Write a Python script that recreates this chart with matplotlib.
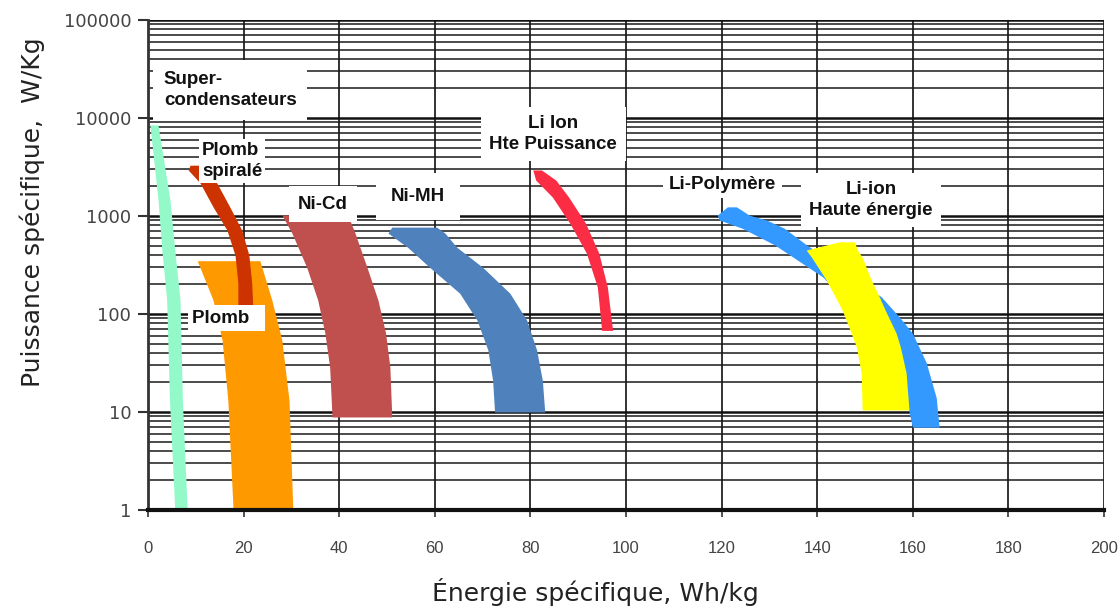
import matplotlib
matplotlib.use("Agg")
import matplotlib.pyplot as plt
from matplotlib.ticker import LogLocator, NullFormatter

# Diagramme de Ragone : chaque technologie est une bande (energie min/max
# pour chaque niveau de puissance specifique)

# Super-condensateurs
sc_p = [8500, 1450, 450, 140, 13, 1]
sc_left = [0.4, 2.1, 2.9, 3.9, 4.5, 5.6]
sc_right = [2.1, 4.6, 5.6, 6.7, 7.2, 8.2]

# Plomb spirale
ps_p = [3300, 2950, 2170, 1240, 720, 400, 207, 123, 110]
ps_left = [8.8, 8.4, 10.9, 13.6, 16.5, 18.2, 18.8, 18.8, 18.8]
ps_right = [11.3, 11.9, 14.4, 17.1, 19.6, 21.1, 21.7, 21.9, 21.9]

# Plomb
pb_p = [350, 139, 54, 13.2, 1]
pb_left = [10.3, 13.6, 15.5, 16.7, 17.8]
pb_right = [23.4, 25.9, 28.0, 29.5, 30.3]

# Ni-Cd
nicd_p = [1024, 670, 300, 139, 64, 28.8, 8.9]
nicd_left = [28.0, 30.1, 33.2, 35.5, 37.0, 38.0, 38.5]
nicd_right = [41.8, 43.3, 45.8, 48.1, 49.7, 50.6, 51.0]

# Ni-MH
nimh_p = [770, 670, 480, 300, 163, 87, 43, 21, 10]
nimh_left = [51.0, 50.2, 54.3, 58.9, 65.2, 68.8, 71.1, 72.1, 72.5]
nimh_right = [60.4, 62.1, 64.6, 70.0, 75.7, 79.2, 81.3, 82.5, 83.0]

# Li Ion haute puissance
lihp_p = [2950, 2330, 1560, 850, 420, 189, 68]
lihp_left = [80.5, 81.1, 84.6, 88.2, 91.7, 94.0, 94.9]
lihp_right = [82.3, 85.3, 88.0, 91.5, 94.3, 96.1, 97.2]

# Li-Polymere
lipo_p = [1240, 1020, 910, 750, 510, 450, 240, 150, 93, 64, 32, 14, 7]
lipo_left = [121.2, 119.1, 119.5, 124.3, 131.0, 132.7, 141.1, 145.2, 148.8,
             151.9, 156.1, 158.6, 159.9]
lipo_right = [123.1, 125.8, 129.4, 133.1, 137.7, 139.4, 147.3, 153.4, 157.2,
              159.9, 162.8, 164.9, 165.5]

# Li-ion haute energie
lihe_p = [545, 450, 380, 222, 149, 110, 64, 46, 25, 10.5]
lihe_left = [144.6, 137.7, 138.8, 141.9, 143.8, 145.2, 147.1, 148.2, 149.2, 149.4]
lihe_right = [147.8, 148.4, 149.4, 151.3, 153.0, 154.2, 156.5, 157.4, 158.6, 159.2]

xticks = list(range(0, 201, 20))
yticks = [1, 10, 100, 1000, 10000, 100000]
ytick_labels = ["1", "10", "100", "1000", "10000", "100000"]

fig = plt.figure(figsize=(11.2, 6.11), dpi=100)
ax = fig.add_axes([148 / 1120, 1 - 510 / 611, 956 / 1120, 490 / 611])
ax.set_yscale("log")
ax.set_xlim(0, 200)
ax.set_ylim(1, 100000)

bands = [
    (sc_p, sc_left, sc_right, "#94F9C9"),
    (pb_p, pb_left, pb_right, "#FF9900"),
    (ps_p, ps_left, ps_right, "#CC3300"),
    (nicd_p, nicd_left, nicd_right, "#C0504D"),
    (nimh_p, nimh_left, nimh_right, "#4F81BD"),
    (lihp_p, lihp_left, lihp_right, "#FA2D45"),
    (lipo_p, lipo_left, lipo_right, "#3399FF"),
    (lihe_p, lihe_left, lihe_right, "#FFFF00"),
]
for i, (p, left, right, col) in enumerate(bands):
    ax.fill_betweenx(p, left, right, color=col, lw=0, zorder=3 + i * 0.01)

# grille
ax.set_xticks(xticks)
ax.set_yticks(yticks, labels=ytick_labels)
ax.yaxis.set_minor_locator(LogLocator(base=10, subs=range(2, 10)))
ax.yaxis.set_minor_formatter(NullFormatter())
ax.grid(True, which="major", axis="x", color="#222222", lw=1.3, zorder=1)
ax.grid(True, which="major", axis="y", color="#111111", lw=1.8, zorder=1)
ax.grid(True, which="minor", axis="y", color="#1a1a1a", lw=1.1, zorder=1)
ax.set_axisbelow(True)

ax.tick_params(axis="y", which="major", length=7, width=1.5, pad=5,
               labelsize=13, labelcolor="#444444", color="#333333")
ax.tick_params(axis="y", which="minor", length=0)
ax.tick_params(axis="x", which="major", length=5, width=1.2, pad=17,
               labelsize=12, labelcolor="#444444", color="#333333")
for lab in ax.get_xticklabels():
    lab.set_fontfamily("Liberation Sans")

for s in ["top", "right"]:
    ax.spines[s].set_visible(False)
ax.spines["left"].set_linewidth(2)
ax.spines["left"].set_color("#333333")
ax.spines["bottom"].set_linewidth(3)
ax.spines["bottom"].set_color("#111111")
ax.spines["left"].set_zorder(6)
ax.spines["bottom"].set_zorder(6)

# etiquettes des technologies
lab_kw = dict(fontsize=13.5, fontfamily="Liberation Sans", fontweight="bold",
              color="#111111", zorder=5)
box = dict(boxstyle="square,pad=0.45", fc="white", ec="none")
ax.text(3.3, 19300, "Super-\ncondensateurs", ha="left", va="center",
        linespacing=1.35, bbox=dict(boxstyle="square,pad=0.55", fc="white", ec="none"),
        **lab_kw)
ax.text(11.3, 3640, "Plomb\nspiralé", ha="left", va="center", linespacing=1.3,
        bbox=dict(boxstyle="square,pad=0.15", fc="white", ec="none"), **lab_kw)
ax.text(36.6, 1325, "Ni-Cd", ha="center", va="center",
        bbox=dict(boxstyle="square,pad=0.5", fc="white", ec="none"), **lab_kw)
ax.text(56.4, 1563, "Ni-MH", ha="center", va="center",
        bbox=dict(boxstyle="square,pad=0.8", fc="white", ec="none"), **lab_kw)
ax.text(9.3, 91, "Plomb  ", ha="left", va="center",
        bbox=dict(boxstyle="square,pad=0.25", fc="white", ec="none"), **lab_kw)
ax.text(84.8, 6870, "Li Ion\nHte Puissance", ha="center", va="center",
        multialignment="center", linespacing=1.25, bbox=box, **lab_kw)
ax.text(120.2, 2120, "Li-Polymère", ha="center", va="center",
        bbox=dict(boxstyle="square,pad=0.3", fc="white", ec="none"), **lab_kw)
ax.text(151.3, 1457, "Li-ion\nHaute énergie", ha="center", va="center",
        multialignment="center", linespacing=1.3, bbox=box, **lab_kw)

fig.text(595 / 1120, 1 - 592 / 611, "Énergie spécifique, Wh/kg", ha="center",
         va="center", fontsize=18, color="#222222")
fig.text(32 / 1120, 1 - 212 / 611, "Puissance spécifique,  W/Kg", ha="center",
         va="center", rotation=90, fontsize=18, color="#222222")

fig.savefig("out.png", dpi=100)
